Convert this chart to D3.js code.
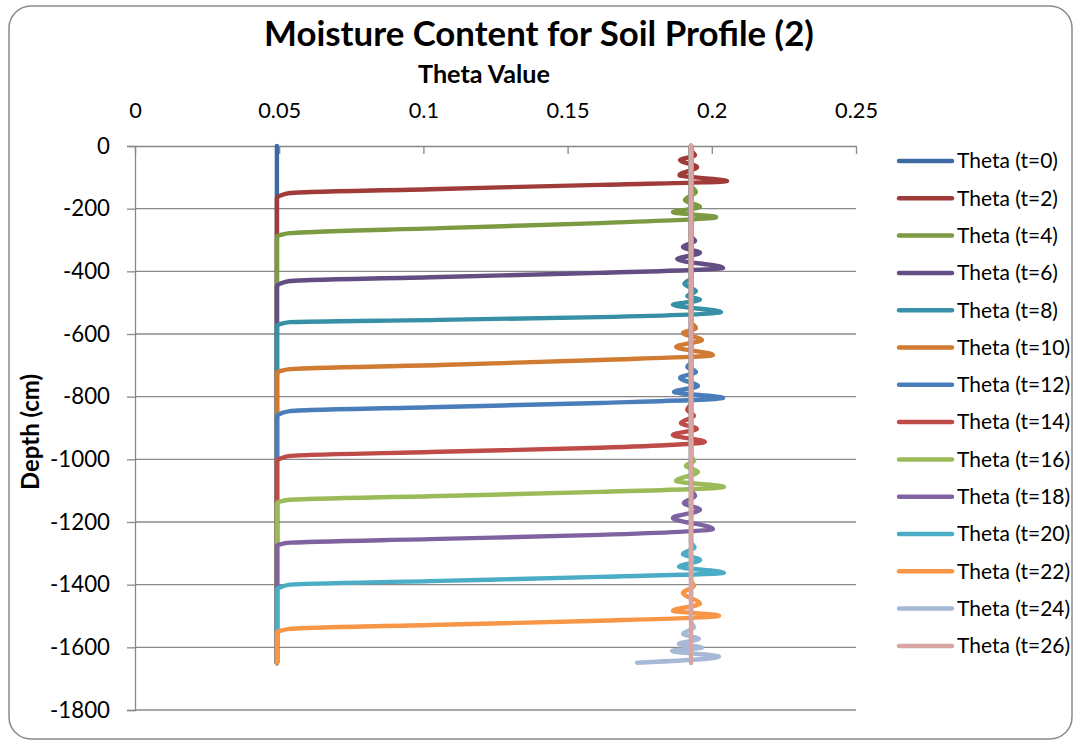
<!DOCTYPE html>
<html><head><meta charset="utf-8">
<script src="https://cdn.jsdelivr.net/npm/d3@7"></script>
<style>html,body{margin:0;padding:0;background:#fff;} svg{display:block;} text{font-family:Lato,"Open Sans",sans-serif;fill:#000;}</style>
</head><body>
<svg id="chart" width="1074" height="742"></svg>
<script>
// ---- data ----
const thetaTicks = [0, 0.05, 0.1, 0.15, 0.2, 0.25];
const depthTicks = [0, -200, -400, -600, -800, -1000, -1200, -1400, -1600, -1800];
const seriesNames = ["Theta (t=0)","Theta (t=2)","Theta (t=4)","Theta (t=6)","Theta (t=8)","Theta (t=10)","Theta (t=12)","Theta (t=14)","Theta (t=16)","Theta (t=18)","Theta (t=20)","Theta (t=22)","Theta (t=24)","Theta (t=26)"];
// points: [theta, depth (cm)]
const t0  = [[0.0492,0],[0.0492,-1650]];
const t2  = [[0.1928,0],[0.1928,-13],[0.1942,-29],[0.1890,-45],[0.1949,-67],[0.1888,-93],[0.2053,-112],[0.1612,-124],[0.1058,-137],[0.0537,-150],[0.0505,-158],[0.0492,-166],[0.0492,-1650]];
const t4  = [[0.1928,0],[0.1928,-124],[0.1945,-147],[0.1907,-172],[0.1959,-195],[0.1865,-211],[0.2015,-227],[0.1612,-246],[0.1058,-262],[0.0537,-278],[0.0505,-284],[0.0492,-290],[0.0492,-1650]];
const t6  = [[0.1928,0],[0.1928,-287],[0.1942,-303],[0.1900,-322],[0.1959,-341],[0.1880,-361],[0.2039,-389],[0.1612,-405],[0.1058,-418],[0.0537,-431],[0.0505,-439],[0.0492,-447],[0.0492,-1650]];
const t8  = [[0.1928,0],[0.1928,-421],[0.1905,-440],[0.1945,-463],[0.1915,-479],[0.1959,-491],[0.1865,-507],[0.2032,-530],[0.1612,-546],[0.1058,-555],[0.0537,-562],[0.0505,-568],[0.0492,-574],[0.0492,-1650]];
const t10 = [[0.1928,0],[0.1928,-562],[0.1945,-581],[0.1900,-597],[0.1966,-619],[0.1876,-641],[0.2004,-667],[0.1612,-683],[0.1058,-699],[0.0537,-712],[0.0505,-718],[0.0492,-724],[0.0492,-1650]];
const t12 = [[0.1928,0],[0.1928,-689],[0.1915,-705],[0.1945,-721],[0.1890,-740],[0.1952,-766],[0.1869,-785],[0.2039,-804],[0.1612,-820],[0.1058,-833],[0.0537,-846],[0.0505,-854],[0.0492,-862],[0.0492,-1650]];
const t14 = [[0.1928,0],[0.1928,-820],[0.1915,-842],[0.1938,-861],[0.1893,-884],[0.1948,-903],[0.1865,-922],[0.1976,-944],[0.1612,-963],[0.1058,-976],[0.0537,-989],[0.0505,-997],[0.0492,-1005],[0.0492,-1650]];
const t16 = [[0.1928,0],[0.1928,-986],[0.1938,-1005],[0.1910,-1021],[0.1952,-1040],[0.1876,-1069],[0.2042,-1088],[0.1612,-1104],[0.1058,-1117],[0.0537,-1129],[0.0505,-1134],[0.0492,-1139],[0.0492,-1650]];
const t18 = [[0.1928,0],[0.1928,-1097],[0.1942,-1117],[0.1903,-1139],[0.1959,-1161],[0.1865,-1187],[0.2004,-1222],[0.1612,-1241],[0.1058,-1254],[0.0537,-1266],[0.0505,-1271],[0.0492,-1276],[0.0492,-1650]];
const t20 = [[0.1928,0],[0.1928,-1263],[0.1940,-1282],[0.1900,-1302],[0.1959,-1321],[0.1886,-1343],[0.2042,-1362],[0.1612,-1375],[0.1058,-1388],[0.0537,-1400],[0.0505,-1408],[0.0492,-1416],[0.0492,-1650]];
const t22 = [[0.1928,0],[0.1928,-1384],[0.1938,-1404],[0.1900,-1426],[0.1959,-1461],[0.1865,-1483],[0.2025,-1499],[0.1612,-1515],[0.1058,-1528],[0.0537,-1541],[0.0505,-1547],[0.0492,-1553],[0.0492,-1650]];
const t24 = [[0.1928,0],[0.1928,-1518],[0.1938,-1537],[0.1900,-1557],[0.1955,-1573],[0.1886,-1589],[0.1966,-1601],[0.1862,-1611],[0.2025,-1630],[0.1741,-1649]];
const t26 = [[0.1928,0],[0.1928,-1650]];
const seriesData = [t0,t2,t4,t6,t8,t10,t12,t14,t16,t18,t20,t22,t24,t26];

// ---- styles ----
const seriesColors = ["#3E6AA3","#9F3B38","#7C9A41","#634D82","#3790A6","#D07A32","#4A7EBB","#BE4B48","#9BBB59","#7F63A1","#4BACC6","#F79646","#A6B9D7","#D8A5A3"];

const svg = d3.select("#chart");
function fit(sel, w){ const cur = sel.node().getComputedTextLength(); const fs = parseFloat(sel.attr("font-size")); sel.attr("font-size", fs*w/cur); }

// border
svg.append("rect").attr("x",9).attr("y",6).attr("width",1063).attr("height",733).attr("rx",22)
  .attr("fill","#fff").attr("stroke","#8a8a8a").attr("stroke-width",1.5);

const x = d3.scaleLinear().domain([0,0.25]).range([135,856]);
const y = d3.scaleLinear().domain([0,-1800]).range([146,710]);

// gridlines
svg.append("g").selectAll("line").data(depthTicks.filter(d=>d!==0)).join("line")
  .attr("x1",x(0)).attr("x2",x(0.25)).attr("y1",d=>y(d)).attr("y2",d=>y(d))
  .attr("stroke","#888").attr("stroke-width",1.3);

// top axis
const gx = svg.append("g").attr("transform",`translate(0,${y(0)})`)
  .call(d3.axisTop(x).tickValues(thetaTicks).tickFormat(d=>String(d)).tickSizeInner(-8).tickSizeOuter(0).tickPadding(28));
gx.select(".domain").attr("stroke","#888").attr("stroke-width",1.3);
gx.selectAll(".tick line").attr("stroke","#888").attr("stroke-width",1.3);
const gxText = gx.selectAll("text").attr("font-size",20).attr("fill","#000");
{ const n = gxText.filter(d=>d===0.05).node(); const s = 43/n.getComputedTextLength(); gxText.attr("font-size",20*s); }

// left axis
const gy = svg.append("g").attr("transform",`translate(${x(0)},0)`)
  .call(d3.axisLeft(y).tickValues(depthTicks).tickFormat(d=>String(d)).tickSize(8).tickPadding(17));
gy.select(".domain").attr("stroke","#888").attr("stroke-width",1.3);
gy.selectAll(".tick line").attr("stroke","#888").attr("stroke-width",1.3);
const gyText = gy.selectAll("text").attr("font-size",20).attr("fill","#000");
{ const n = gyText.filter(d=>d===-1800).node(); const s = 60/n.getComputedTextLength(); gyText.attr("font-size",20*s); }

// series
const line = d3.line().x(d=>x(d[0])).y(d=>y(d[1])).curve(d3.curveMonotoneY);
svg.append("g").selectAll("path").data(seriesData).join("path")
  .attr("d",line).attr("fill","none").attr("stroke",(d,i)=>seriesColors[i])
  .attr("stroke-width",4.4).attr("stroke-linejoin","round").attr("stroke-linecap","round");

// titles
const title = svg.append("text").attr("x",539).attr("y",46).attr("text-anchor","middle")
  .attr("font-size",31).attr("font-weight","bold").text("Moisture Content for Soil Profile (2)");
fit(title,550);
const xt = svg.append("text").attr("x",484).attr("y",83).attr("text-anchor","middle")
  .attr("font-size",20).attr("font-weight","bold").text("Theta Value");
fit(xt,132);
const yt = svg.append("text").attr("transform","translate(39,432) rotate(-90)").attr("text-anchor","middle")
  .attr("font-size",20).attr("font-weight","bold").text("Depth (cm)");
fit(yt,116);

// legend
const lg = svg.append("g");
const items = lg.selectAll("g").data(seriesNames).join("g")
  .attr("transform",(d,i)=>`translate(0,${161+i*37.3})`);
items.append("line").attr("x1",899).attr("x2",952).attr("y1",0).attr("y2",0)
  .attr("stroke",(d,i)=>seriesColors[i]).attr("stroke-width",4.5).attr("stroke-linecap","round");
const lt = items.append("text").attr("x",957).attr("y",0).attr("dy","0.35em").attr("font-size",18).text(d=>d);
const w0 = lt.node().getComputedTextLength();
lt.attr("font-size",18*101/w0);
</script></body></html>
